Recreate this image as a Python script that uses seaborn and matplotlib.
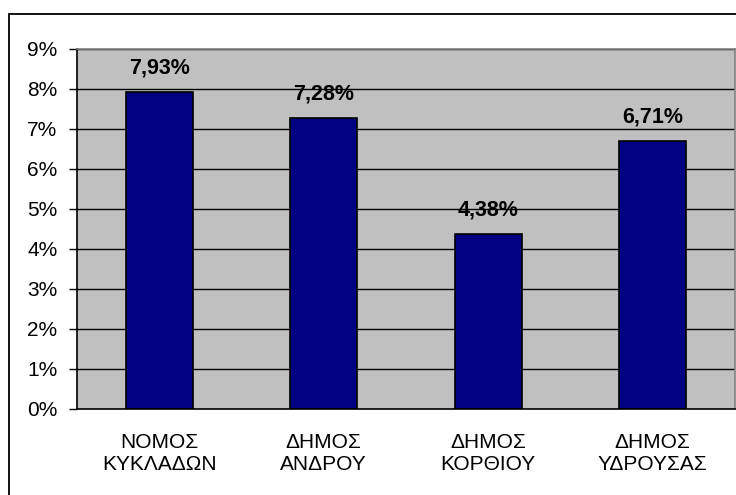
import matplotlib
matplotlib.use("Agg")
import matplotlib.pyplot as plt
import matplotlib.patches as mpatches
import seaborn as sns
import pandas as pd

categories = ["ΝΟΜΟΣ\nΚΥΚΛΑΔΩΝ", "ΔΗΜΟΣ\nΑΝΔΡΟΥ", "ΔΗΜΟΣ\nΚΟΡΘΙΟΥ", "ΔΗΜΟΣ\nΥΔΡΟΥΣΑΣ"]
values = [7.93, 7.28, 4.38, 6.71]
value_labels = ["7,93%", "7,28%", "4,38%", "6,71%"]
y_ticks = list(range(0, 10))

sns.set_style("white")
plt.rcParams['font.family'] = ['Liberation Sans', 'DejaVu Sans']
plt.rcParams['text.color'] = 'black'
plt.rcParams['xtick.color'] = 'black'
plt.rcParams['ytick.color'] = 'black'
plt.rcParams['xtick.labelcolor'] = 'black'
plt.rcParams['ytick.labelcolor'] = 'black'

df = pd.DataFrame({'cat': categories, 'val': values})

fig = plt.figure(figsize=(7.36, 4.95), dpi=100)
fig.patches.append(mpatches.Rectangle((9 / 736, -0.1), 1.2, 1 - 14 / 495 + 0.1,
                                      transform=fig.transFigure, fill=False,
                                      edgecolor='black', linewidth=1.3, zorder=0))
ax = fig.add_axes([77 / 736, 86 / 495, 658 / 736, 360 / 495])
ax.set_facecolor('#C0C0C0')

sns.barplot(data=df, x='cat', y='val', color='#000080', edgecolor='black',
            linewidth=1.2, width=0.41, saturation=1, ax=ax, zorder=3)

ax.set_ylim(0, 9)
ax.set_xlim(-0.5, 3.5)
ax.set_yticks(y_ticks)
ax.set_yticklabels([f"{t}%" for t in y_ticks], fontsize=15, color='black')
for t in y_ticks[1:]:
    ax.axhline(t, color='black', linewidth=1, zorder=1)

ax.set_xticks(range(4))
ax.set_xticklabels(categories, fontsize=15, linespacing=1.2, color='black')
ax.tick_params(axis='x', which='major', length=0, pad=17)
ax.set_xticks([0.5, 1.5, 2.5, 3.5], minor=True)
ax.tick_params(axis='x', which='minor', length=6, width=1, color='black', direction='out')
ax.tick_params(axis='y', length=6, width=1, color='black', direction='out', pad=8, left=True)
ax.set_xlabel('')
ax.set_ylabel('')

for i, (v, lab) in enumerate(zip(values, value_labels)):
    ax.annotate(lab, (i, v), xytext=(0, 17), textcoords='offset points',
                ha='center', va='center', fontsize=15.5, fontweight='bold', color='black')

ax.spines['left'].set_color('black')
ax.spines['bottom'].set_color('black')
ax.spines['top'].set_color('#808080')
ax.spines['right'].set_color('#808080')
for s in ax.spines.values():
    s.set_linewidth(1.2)
    s.set_zorder(4)

fig.savefig('out.png', dpi=100)
